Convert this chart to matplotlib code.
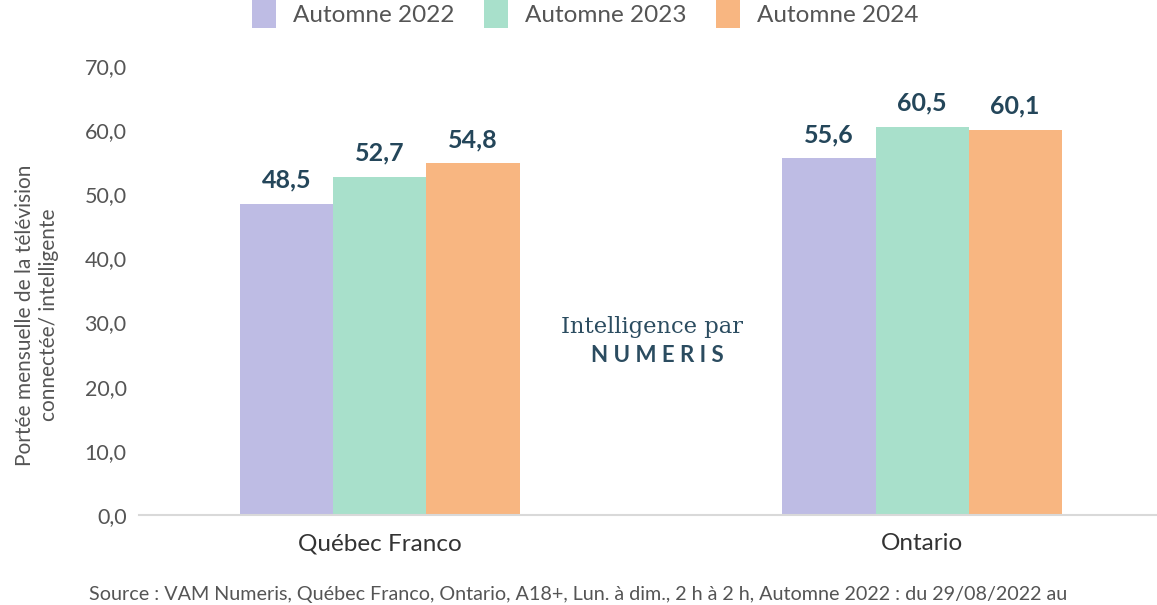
import numpy as np
import matplotlib.pyplot as plt
from matplotlib.patches import Patch

plt.rcParams['font.family'] = ['Lato', 'DejaVu Sans']

# ---- data
regions = ['Québec Franco', 'Ontario']
seasons = ['Automne 2022', 'Automne 2023', 'Automne 2024']
values = {
    'Automne 2022': [48.5, 55.6],
    'Automne 2023': [52.7, 60.5],
    'Automne 2024': [54.8, 60.1],
}
colors = ['#BEBCE4', '#A8E0CB', '#F8B681']
yticks = [0, 10, 20, 30, 40, 50, 60, 70]
ylabel = 'Portée mensuelle de la télévision\nconnectée/ intelligente'
source = ('Source : VAM Numeris, Québec Franco, Ontario, A18+, Lun. à dim., 2 h à 2 h, '
          'Automne 2022 : du 29/08/2022 au')


def fmt(v):
    return f'{v:.1f}'.replace('.', ',')


def main():
    fig = plt.figure(figsize=(11.57, 6.05), dpi=100)
    ax = fig.add_axes([139/1157, 90/605, 1024/1157, 449/605])

    x = np.arange(len(regions))
    width = 0.1716
    navy = '#24465A'
    for i, (season, col) in enumerate(zip(seasons, colors)):
        xs = x + (i - 1) * width
        ax.bar(xs, values[season], width, color=col, zorder=2)
        for xx, v in zip(xs, values[season]):
            ax.text(xx, v + 1.9, fmt(v), ha='center', va='bottom',
                    fontsize=18, fontweight='bold', color=navy)

    ax.set_xlim(-0.4446, 1.4446)
    ax.set_ylim(0, 70)
    ax.set_yticks(yticks)
    ax.set_yticklabels([fmt(t) for t in yticks], fontsize=15.5, color='#555555')
    ax.set_xticks(x)
    ax.set_xticklabels(regions, fontsize=17.5, color='#333333')
    ax.tick_params(axis='both', length=0)
    ax.tick_params(axis='y', pad=9)
    ax.tick_params(axis='x', pad=13)
    for s in ['top', 'right', 'left']:
        ax.spines[s].set_visible(False)
    ax.spines['bottom'].set_color('#D9D9D9')
    ax.spines['bottom'].set_linewidth(1.5)

    fig.text(37/1157, 290/605, ylabel, rotation=90, ha='center', va='center',
             fontsize=15, color='#555555', linespacing=1.25)

    handles = [Patch(facecolor=c, edgecolor='none') for c in colors]
    fig.legend(handles, seasons, loc='center', bbox_to_anchor=(585/1157, 1 - 14/605),
               ncol=3, frameon=False, fontsize=17.5, labelcolor='#555555',
               handlelength=1.0, handleheight=1.4, columnspacing=1.2, handletextpad=0.7)

    fig.text(652/1157, 1 - 327/605, 'Intelligence par', ha='center', va='center',
             fontsize=16.3, family='DejaVu Serif', color='#2B4C60')
    fig.text(657/1157, 1 - 356/605, 'N U M E R I S', ha='center', va='center',
             fontsize=16, fontweight='bold', color='#2B4C60')

    fig.text(578/1157, 1 - 600/605, source, ha='center', va='baseline',
             fontsize=14.2, color='#555555')

    fig.savefig('out.png', dpi=100)


if __name__ == '__main__':
    main()
